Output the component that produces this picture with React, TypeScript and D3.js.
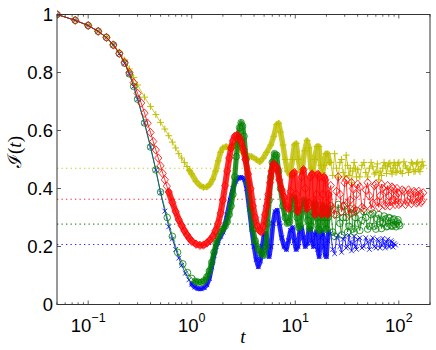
import React from "react";
import * as d3 from "d3";

// ---------- data ----------
const tDomain: [number, number] = [0.05, 200];
const yDomain: [number, number] = [0, 1];
const yTicks = [0, 0.2, 0.4, 0.6, 0.8, 1];
const yTickLabels = ["0", "0.2", "0.4", "0.6", "0.8", "1"];
const xMajorTicks = [0.1, 1, 10, 100];
const xTickExponents = ["\u22121", "0", "1", "2"];
const plateauValues = [0.207, 0.277, 0.363, 0.47]; // blue, green, red, yellow

const blueData: [number, number][] = [
  [0.05, 1.0], [0.075, 0.98], [0.1, 0.962], [0.125, 0.942], [0.15, 0.921], [0.175, 0.895], [0.2, 0.865],
  [0.225, 0.832], [0.25, 0.795], [0.275, 0.752], [0.3, 0.708], [0.35, 0.626], [0.4, 0.543], [0.45, 0.464],
  [0.5, 0.385], [0.55, 0.322], [0.6, 0.268], [0.65, 0.226], [0.7, 0.19], [0.75, 0.16], [0.8, 0.135],
  [0.87, 0.108], [0.94, 0.085], [1.0, 0.07], [1.07, 0.06], [1.15, 0.055], [1.23, 0.054], [1.32, 0.058],
  [1.4, 0.068], [1.48, 0.09], [1.56, 0.13], [1.64, 0.17], [1.72, 0.2], [1.8, 0.22], [1.9, 0.235], [2.0, 0.25],
  [2.1, 0.275], [2.2, 0.31], [2.35, 0.36], [2.5, 0.4], [2.65, 0.425], [2.8, 0.435], [2.95, 0.438], [3.1, 0.437],
  [3.25, 0.43], [3.4, 0.4], [3.6, 0.33], [3.8, 0.26], [4.0, 0.2], [4.2, 0.155], [4.4, 0.13], [4.6, 0.15],
  [4.8, 0.2], [5.0, 0.24], [5.2, 0.245], [5.4, 0.2], [5.6, 0.165], [5.8, 0.2], [6.1, 0.28], [6.4, 0.32],
  [6.7, 0.325], [7.0, 0.28], [7.4, 0.23], [7.8, 0.2], [8.2, 0.19], [8.6, 0.22], [9.0, 0.255], [9.4, 0.265],
  [9.8, 0.22], [10.2, 0.19], [10.6, 0.2], [11.0, 0.25], [11.5, 0.265], [12.0, 0.23], [12.5, 0.2], [13.0, 0.21],
  [13.5, 0.255], [14.0, 0.26], [14.5, 0.22], [15.0, 0.2], [15.5, 0.24], [16.0, 0.25], [16.5, 0.19], [17.0, 0.165],
  [17.5, 0.23], [18.0, 0.25], [18.5, 0.24], [19.0, 0.2], [19.5, 0.17], [20.0, 0.165], [20.5, 0.22], [21.0, 0.25],
  [22, 0.245], [23, 0.19], [24, 0.175], [25, 0.23], [26, 0.24], [27, 0.2], [28, 0.18], [29, 0.225], [30, 0.235],
  [31, 0.195], [32, 0.2], [33, 0.24], [34, 0.215], [35, 0.185], [36, 0.21], [37, 0.235], [38, 0.2], [39, 0.19],
  [40, 0.225], [42, 0.23], [44, 0.195], [46, 0.2], [48, 0.23], [50, 0.215], [52, 0.19], [54, 0.22], [56, 0.23],
  [58, 0.2], [60, 0.195], [62, 0.225], [64, 0.22], [66, 0.195], [68, 0.205], [70, 0.228], [72, 0.21], [74, 0.195],
  [76, 0.215], [78, 0.225], [80, 0.2], [82, 0.2], [84, 0.22], [86, 0.215], [88, 0.198], [90, 0.21], [93, 0.205],
];

const greenData: [number, number][] = [
  [0.05, 1.0], [0.075, 0.98], [0.1, 0.962], [0.125, 0.942], [0.15, 0.921], [0.175, 0.895], [0.2, 0.865],
  [0.225, 0.832], [0.25, 0.795], [0.275, 0.752], [0.3, 0.708], [0.35, 0.626], [0.4, 0.543], [0.45, 0.464],
  [0.5, 0.388], [0.58, 0.3], [0.65, 0.235], [0.73, 0.18], [0.82, 0.14], [0.91, 0.11], [1.0, 0.09], [1.08, 0.08],
  [1.16, 0.077], [1.24, 0.077], [1.32, 0.082], [1.4, 0.095], [1.48, 0.115], [1.56, 0.145], [1.64, 0.18],
  [1.72, 0.21], [1.8, 0.235], [1.9, 0.25], [2.0, 0.26], [2.1, 0.27], [2.2, 0.285], [2.3, 0.31], [2.4, 0.34],
  [2.5, 0.38], [2.6, 0.44], [2.7, 0.51], [2.8, 0.57], [2.9, 0.61], [3.0, 0.627], [3.1, 0.615], [3.2, 0.58],
  [3.35, 0.5], [3.5, 0.42], [3.7, 0.33], [3.9, 0.26], [4.1, 0.22], [4.4, 0.19], [4.7, 0.175], [5.0, 0.17],
  [5.2, 0.2], [5.4, 0.28], [5.6, 0.36], [5.8, 0.44], [6.0, 0.49], [6.3, 0.52], [6.6, 0.515], [6.9, 0.46],
  [7.2, 0.4], [7.6, 0.34], [8.0, 0.3], [8.4, 0.28], [8.8, 0.285], [9.2, 0.33], [9.6, 0.37], [10.0, 0.36],
  [10.4, 0.3], [10.8, 0.265], [11.2, 0.27], [11.7, 0.33], [12.2, 0.36], [12.7, 0.35], [13.2, 0.29], [13.7, 0.26],
  [14.2, 0.27], [14.7, 0.32], [15.2, 0.35], [15.7, 0.345], [16.2, 0.3], [16.7, 0.26], [17.2, 0.255], [17.7, 0.3],
  [18.2, 0.33], [18.7, 0.34], [19.2, 0.3], [19.7, 0.26], [20.2, 0.26], [20.7, 0.3], [21.2, 0.33],
  [22, 0.34], [23, 0.25], [24, 0.235], [25, 0.31], [26, 0.345], [27, 0.28], [28, 0.24], [29, 0.3], [30, 0.34],
  [31, 0.3], [32, 0.25], [33, 0.27], [34, 0.33], [35, 0.315], [36, 0.26], [37, 0.25], [38, 0.3], [39, 0.325],
  [40, 0.28], [42, 0.255], [44, 0.29], [46, 0.32], [48, 0.3], [50, 0.26], [52, 0.27], [54, 0.31], [56, 0.315],
  [58, 0.27], [60, 0.26], [62, 0.295], [64, 0.31], [66, 0.285], [68, 0.262], [70, 0.28], [72, 0.305], [74, 0.295],
  [76, 0.268], [78, 0.27], [80, 0.3], [82, 0.298], [84, 0.272], [86, 0.27], [88, 0.292], [90, 0.295], [92, 0.275],
  [94, 0.268], [96, 0.285], [98, 0.292], [100, 0.278], [102, 0.272],
];

const redData: [number, number][] = [
  [0.05, 1.0], [0.075, 0.98], [0.1, 0.962], [0.125, 0.942], [0.15, 0.921], [0.175, 0.895], [0.2, 0.866],
  [0.225, 0.835], [0.25, 0.8], [0.275, 0.765], [0.3, 0.728], [0.325, 0.695], [0.35, 0.66], [0.375, 0.625],
  [0.4, 0.593], [0.425, 0.562], [0.45, 0.533], [0.475, 0.505], [0.5, 0.478], [0.525, 0.452], [0.55, 0.43],
  [0.575, 0.408], [0.6, 0.388], [0.65, 0.352], [0.7, 0.32], [0.75, 0.292], [0.8, 0.272], [0.85, 0.254],
  [0.9, 0.24], [0.95, 0.228], [1.0, 0.218], [1.1, 0.208], [1.2, 0.204], [1.3, 0.205], [1.4, 0.212], [1.5, 0.222],
  [1.6, 0.235], [1.7, 0.255], [1.8, 0.28], [1.9, 0.315], [2.0, 0.36], [2.1, 0.41], [2.2, 0.46], [2.3, 0.505],
  [2.4, 0.54], [2.5, 0.565], [2.6, 0.58], [2.75, 0.585], [2.9, 0.575], [3.0, 0.56], [3.15, 0.535], [3.3, 0.5],
  [3.5, 0.45], [3.7, 0.4], [3.9, 0.34], [4.1, 0.3], [4.3, 0.27], [4.5, 0.255], [4.7, 0.25], [4.9, 0.27],
  [5.1, 0.31], [5.3, 0.34], [5.5, 0.38], [5.7, 0.42], [5.9, 0.46], [6.15, 0.485], [6.4, 0.48], [6.7, 0.47],
  [7.0, 0.43], [7.4, 0.395], [7.8, 0.37], [8.2, 0.34], [8.6, 0.33], [9.0, 0.39], [9.4, 0.45], [9.8, 0.455],
  [10.2, 0.38], [10.6, 0.32], [11.0, 0.34], [11.5, 0.44], [12.0, 0.465], [12.5, 0.4], [13.0, 0.33], [13.5, 0.35],
  [14.0, 0.44], [14.5, 0.45], [15.0, 0.36], [15.5, 0.31], [16.0, 0.38], [16.5, 0.45], [17.0, 0.44], [17.5, 0.34],
  [18.0, 0.31], [18.5, 0.38], [19.0, 0.44], [19.5, 0.43], [20.0, 0.35], [20.5, 0.31], [21.0, 0.38],
  [22, 0.41], [23, 0.33], [24, 0.31], [25, 0.39], [26, 0.44], [27, 0.38], [28, 0.32], [29, 0.34], [30, 0.42],
  [31, 0.43], [32, 0.35], [33, 0.31], [34, 0.36], [35, 0.42], [36, 0.4], [37, 0.33], [38, 0.32], [39, 0.38],
  [40, 0.415], [42, 0.405], [44, 0.335], [46, 0.33], [48, 0.395], [50, 0.42], [52, 0.375], [54, 0.33],
  [56, 0.35], [58, 0.41], [60, 0.415], [62, 0.355], [64, 0.335], [66, 0.375], [68, 0.415], [70, 0.4],
  [72, 0.345], [74, 0.34], [76, 0.39], [78, 0.41], [80, 0.375], [82, 0.34], [84, 0.355], [86, 0.405],
  [88, 0.4], [90, 0.36], [92, 0.345], [94, 0.375], [96, 0.4], [98, 0.385], [100, 0.345], [104, 0.35],
  [108, 0.395], [112, 0.39], [116, 0.345], [120, 0.355], [124, 0.395], [128, 0.385], [132, 0.348],
  [136, 0.36], [140, 0.39], [144, 0.385], [148, 0.35], [152, 0.355], [156, 0.39], [160, 0.38], [164, 0.352],
  [168, 0.358], [172, 0.385],
];

const yellowData: [number, number][] = [
  [0.05, 1.0], [0.075, 0.98], [0.1, 0.962], [0.125, 0.942], [0.15, 0.921], [0.175, 0.897], [0.2, 0.87],
  [0.225, 0.843], [0.25, 0.812], [0.275, 0.783], [0.3, 0.757], [0.35, 0.715], [0.4, 0.683], [0.45, 0.655],
  [0.5, 0.628], [0.55, 0.605], [0.6, 0.582], [0.65, 0.56], [0.7, 0.54], [0.75, 0.52], [0.8, 0.505],
  [0.85, 0.49], [0.9, 0.476], [0.95, 0.462], [1.0, 0.45], [1.1, 0.425], [1.2, 0.41], [1.3, 0.404], [1.4, 0.405],
  [1.5, 0.415], [1.6, 0.432], [1.7, 0.46], [1.8, 0.495], [1.9, 0.525], [2.0, 0.54], [2.15, 0.545], [2.3, 0.54],
  [2.45, 0.54], [2.6, 0.548], [2.75, 0.556], [2.9, 0.545], [3.1, 0.525], [3.4, 0.515], [3.8, 0.51], [4.2, 0.5],
  [4.55, 0.492], [4.9, 0.505], [5.3, 0.525], [5.8, 0.55], [6.2, 0.58], [6.6, 0.62], [6.9, 0.625], [7.2, 0.595],
  [7.6, 0.55], [8.0, 0.5], [8.4, 0.46], [8.9, 0.446], [9.4, 0.5], [9.8, 0.55], [10.2, 0.555], [10.7, 0.5],
  [11.2, 0.46], [11.7, 0.47], [12.3, 0.53], [13.0, 0.565], [13.6, 0.54], [14.2, 0.47], [14.8, 0.46],
  [15.4, 0.5], [16.2, 0.545], [16.9, 0.545], [17.6, 0.48], [18.3, 0.455], [19.0, 0.48], [19.8, 0.52],
  [20.6, 0.52], [21.4, 0.49],
  [22, 0.49], [23, 0.445], [24, 0.52], [25, 0.47], [26, 0.44], [27, 0.49], [28, 0.5], [29, 0.455], [30, 0.44],
  [31, 0.515], [32, 0.48], [33, 0.445], [34, 0.47], [35, 0.42], [36, 0.46], [37, 0.49], [38, 0.47], [39, 0.44],
  [40, 0.465], [42, 0.44], [44, 0.48], [46, 0.49], [48, 0.455], [50, 0.44], [52, 0.47], [54, 0.49], [56, 0.475],
  [58, 0.45], [60, 0.455], [62, 0.485], [64, 0.43], [66, 0.46], [68, 0.445], [70, 0.47], [72, 0.49], [74, 0.48],
  [76, 0.452], [78, 0.475], [80, 0.485], [82, 0.488], [84, 0.46], [86, 0.45], [88, 0.47], [90, 0.49], [92, 0.48],
  [94, 0.455], [96, 0.46], [98, 0.485], [100, 0.49], [104, 0.46], [108, 0.452], [112, 0.492], [116, 0.478],
  [120, 0.47], [124, 0.455], [128, 0.465], [132, 0.49], [136, 0.485], [140, 0.458], [144, 0.46], [148, 0.485],
  [152, 0.49], [156, 0.465], [160, 0.458], [164, 0.475], [168, 0.492], [172, 0.48],
];

// ---------- drawing ----------
type Marker = "x" | "o" | "d" | "+";
const markerPath: Record<Marker, string> = {
  x: "M-2.4,-2.4L2.4,2.4M-2.4,2.4L2.4,-2.4",
  o: d3.symbol(d3.symbolCircle, 34)() as string,
  d: "M0,-4.2L3.6,0L0,4.2L-3.6,0Z",
  "+": "M-3.4,0H3.4M0,-3.4V3.4",
};

export default function App() {
  const W = 436, H = 350;
  const left = 57, right = 430, top = 14.5, bottom = 304.5;
  const x = d3.scaleLog().domain(tDomain).range([left, right]);
  const y = d3.scaleLinear().domain(yDomain).range([bottom, top]);
  const line = d3.line<[number, number]>().x((d) => x(d[0])).y((d) => y(d[1]));

  const series = [
    { key: "yellow", data: yellowData, color: "#bfbf00", marker: "+" as Marker, ribbonFrom: 0.95, ribbonW: 5.5, plateau: plateauValues[3] },
    { key: "blue", data: blueData, color: "#0000ff", marker: "x" as Marker, ribbonFrom: 1.0, ribbonW: 4.8, plateau: plateauValues[0] },
    { key: "green", data: greenData, color: "#008000", marker: "o" as Marker, ribbonFrom: 1.08, ribbonW: 5.2, plateau: plateauValues[1] },
    { key: "red", data: redData, color: "#ff0000", marker: "d" as Marker, ribbonFrom: 0.6, ribbonW: 6.2, plateau: plateauValues[2] },
  ];
  const ribbonTo = 21.5;

  const xTicksAll = x.ticks();
  const font = "'Liberation Sans', Arial, Helvetica, sans-serif";

  return (
    <svg width={W} height={H} style={{ position: "absolute", left: 0, top: 0, background: "#fff" }}>
      <defs>
        <clipPath id="plotclip">
          <rect x={left} y={top - 6} width={right - left} height={bottom - top + 6} />
        </clipPath>
      </defs>
      <rect x={0} y={0} width={W} height={H} fill="#fff" />
      {/* dotted plateau lines */}
      {series.map((s) => (
        <line key={"p" + s.key} x1={left} x2={right} y1={y(s.plateau)} y2={y(s.plateau)}
          stroke={s.color} strokeWidth={1.1} strokeDasharray="1.3,3.2" opacity={0.85} />
      ))}
      <g clipPath="url(#plotclip)">
        {series.map((s) => {
          const rib = s.data.filter((d) => d[0] >= s.ribbonFrom && d[0] <= ribbonTo);
          return (
            <g key={s.key}>
              <path d={line(rib) || ""} fill="none" stroke={s.color} strokeWidth={s.ribbonW}
                strokeLinejoin="round" strokeLinecap="round" opacity={0.82} />
              <path d={line(s.data) || ""} fill="none" stroke={s.color} strokeWidth={0.8} />
              {s.data.map((d, i) => (
                <path key={i} d={markerPath[s.marker]} transform={`translate(${x(d[0])},${y(d[1])})`}
                  fill="none" stroke={s.color} strokeWidth={s.marker === "+" ? 1 : 0.8} />
              ))}
            </g>
          );
        })}
      </g>
      {/* axes box */}
      <rect x={left} y={top} width={right - left} height={bottom - top} fill="none" stroke="#333" strokeWidth={1} />
      {/* x ticks */}
      {xTicksAll.map((t, i) => {
        const major = Math.abs(Math.log10(t) - Math.round(Math.log10(t))) < 1e-9;
        const len = major ? 4 : 2.2;
        const px = x(t);
        return (
          <g key={"xt" + i}>
            <line x1={px} x2={px} y1={bottom} y2={bottom - len} stroke="#333" strokeWidth={0.8} />
            <line x1={px} x2={px} y1={top} y2={top + len} stroke="#333" strokeWidth={0.8} />
          </g>
        );
      })}
      {xMajorTicks.map((t, i) => (
        <text key={"xl" + i} x={x(t)} y={332} textAnchor="middle" fontFamily={font} fontSize={18.5} fill="#000">
          <tspan>10</tspan>
          <tspan dy={-10} fontSize={12.5}>{xTickExponents[i]}</tspan>
        </text>
      ))}
      {/* y ticks */}
      {yTicks.map((v, i) => (
        <g key={"yt" + i}>
          <line x1={left} x2={left + 4} y1={y(v)} y2={y(v)} stroke="#333" strokeWidth={0.8} />
          <line x1={right} x2={right - 4} y1={y(v)} y2={y(v)} stroke="#333" strokeWidth={0.8} />
          <text x={53} y={y(v)} dy="0.36em" textAnchor="end" fontFamily={font} fontSize={18.5} fill="#000">
            {yTickLabels[i]}
          </text>
        </g>
      ))}
      {/* axis labels */}
      <text x={243} y={343} textAnchor="middle" fontFamily="'Liberation Serif', 'DejaVu Serif', serif"
        fontStyle="italic" fontSize={19} fill="#000">t</text>
      <text transform="translate(21,152) rotate(-90)" textAnchor="middle" fontSize={19} fill="#000"
        fontFamily="'DejaVu Serif', 'Liberation Serif', serif">
        <tspan fontStyle="normal">ℐ</tspan>
        <tspan fontFamily="'Liberation Serif', serif">(</tspan>
        <tspan fontFamily="'Liberation Serif', serif" fontStyle="italic">t</tspan>
        <tspan fontFamily="'Liberation Serif', serif">)</tspan>
      </text>
    </svg>
  );
}
